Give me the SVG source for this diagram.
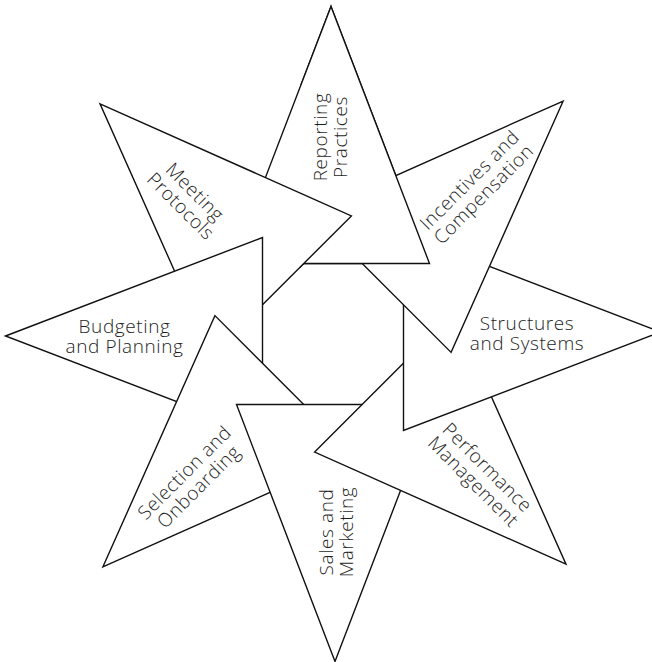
<svg xmlns="http://www.w3.org/2000/svg" xmlns:xlink="http://www.w3.org/1999/xlink" width="652" height="662" viewBox="0 0 652 662">
<style>
.tri{fill:#fff;stroke:#111;stroke-width:1.4;stroke-linejoin:miter}
.lbl{font-family:"Open Sans","Liberation Sans",sans-serif;font-size:19px;letter-spacing:0.6px;fill:#1e1e1e;text-anchor:middle;font-weight:300}
</style>
<defs>
<polygon id="tri-shape" points="-2,-327.5 96.5,-70.5 -100.5,-70.5"/>
<clipPath id="fix-clip" clipPathUnits="userSpaceOnUse"><rect x="300" y="0" width="352" height="300"/></clipPath>
</defs>
<rect width="652" height="662" fill="#fff"/>
<g id="connectors"/>
<g id="node-reporting">
<use id="shape-reporting" href="#tri-shape" class="tri" transform="translate(333,334) rotate(0)"/>
<text id="label-reporting" class="lbl" transform="translate(331,137) rotate(-90)"><tspan x="0" y="-4">Reporting</tspan><tspan x="0" y="16">Practices</tspan></text>
</g>
<g id="node-meeting">
<use id="shape-meeting" href="#tri-shape" class="tri" transform="translate(333,334) rotate(315)"/>
<text class="lbl" transform="translate(187.5,199.5) rotate(45)"><tspan x="0" y="-4">Meeting</tspan><tspan x="0" y="16">Protocols</tspan></text>
</g>
<g id="node-budgeting">
<use href="#tri-shape" class="tri" transform="translate(333,334) rotate(270)"/>
<text class="lbl" transform="translate(124.5,336.5)"><tspan x="0" y="-4">Budgeting</tspan><tspan x="0" y="16">and Planning</tspan></text>
</g>
<g id="node-selection">
<use href="#tri-shape" class="tri" transform="translate(333,334) rotate(225)"/>
<text class="lbl" transform="translate(192,480) rotate(-45)"><tspan x="0" y="-4">Selection and</tspan><tspan x="0" y="16">Onboarding</tspan></text>
</g>
<g id="node-sales">
<use href="#tri-shape" class="tri" transform="translate(333,334) rotate(180)"/>
<text class="lbl" transform="translate(337,532) rotate(-90)"><tspan x="0" y="-4">Sales and</tspan><tspan x="0" y="16">Marketing</tspan></text>
</g>
<g id="node-performance">
<use href="#tri-shape" class="tri" transform="translate(333,334) rotate(135)"/>
<text class="lbl" transform="translate(480,475) rotate(45)"><tspan x="0" y="-4">Performance</tspan><tspan x="0" y="16">Management</tspan></text>
</g>
<g id="node-structures">
<use href="#tri-shape" class="tri" transform="translate(333,334) rotate(90)"/>
<text class="lbl" transform="translate(527,334)"><tspan x="0" y="-4">Structures</tspan><tspan x="0" y="16">and Systems</tspan></text>
</g>
<g id="node-incentives">
<use href="#tri-shape" class="tri" transform="translate(333,334) rotate(45)"/>
<text class="lbl" transform="translate(477,187.5) rotate(-45)"><tspan x="0" y="-4">Incentives and</tspan><tspan x="0" y="16">Compensation</tspan></text>
</g>
<g id="overlap-fix" clip-path="url(#fix-clip)">
<use href="#shape-reporting"/>
<use href="#label-reporting"/>
<use href="#shape-meeting"/>
</g>
</svg>
